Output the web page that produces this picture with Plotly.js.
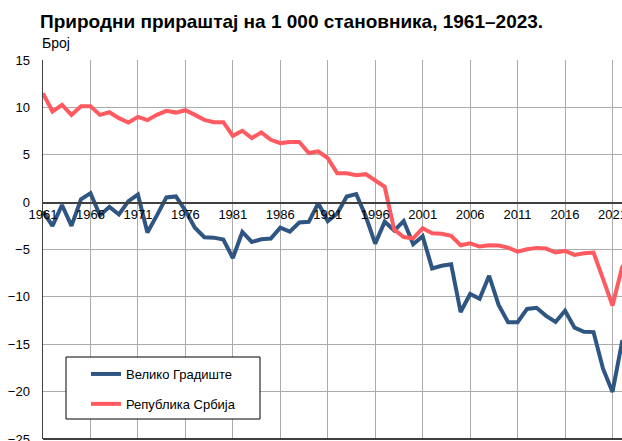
<!DOCTYPE html>
<html>
<head>
<meta charset="utf-8">
<script src="https://cdn.plot.ly/plotly-3.0.1.min.js"></script>
<style>html,body{margin:0;padding:0;background:#fff;}#chart{width:622px;height:441px;}</style>
</head>
<body>
<div id="chart"></div>
<script>
// ---- data ----
const years = [];
for (let y = 1961; y <= 2023; y++) years.push(y);

const velikoGradiste = [
  -1.0, -2.5, -0.3, -2.5, 0.3, 0.95, -1.4, -0.5, -1.3, 0.1,
  0.8, -3.2, -1.4, 0.5, 0.6, -0.9, -2.7, -3.7, -3.75, -3.95,
  -5.9, -3.15, -4.2, -3.92, -3.85, -2.7, -3.12, -2.15, -2.08, -0.12,
  -2.0, -1.2, 0.6, 0.85, -1.5, -4.38, -2.07, -3.0, -2.0, -4.45,
  -3.6, -7.0, -6.72, -6.55, -11.6, -9.7, -10.2, -7.77, -10.85, -12.68,
  -12.68, -11.27, -11.15, -12.0, -12.65, -11.47, -13.25, -13.68, -13.72, -17.58,
  -20.03, -14.78, -15.0
];

const srbija = [
  11.48, 9.56, 10.26, 9.21, 10.12, 10.12, 9.21, 9.49, 8.86, 8.4,
  9.0, 8.65, 9.21, 9.63, 9.45, 9.7, 9.21, 8.68, 8.44, 8.44,
  7.0, 7.53, 6.76, 7.35, 6.58, 6.23, 6.34, 6.34, 5.18, 5.36,
  4.65, 3.05, 3.05, 2.85, 2.95, 2.22, 1.62, -2.9, -3.68, -3.82,
  -2.75, -3.28, -3.33, -3.55, -4.55, -4.34, -4.69, -4.55, -4.58, -4.8,
  -5.22, -4.97, -4.83, -4.9, -5.32, -5.15, -5.57, -5.39, -5.32, -8.1,
  -10.92, -6.9, -5.5
];

const seriesNames = ['Велико Градиште', 'Република Србија'];
const tickYears = [1961, 1966, 1971, 1976, 1981, 1986, 1991, 1996, 2001, 2006, 2011, 2016, 2021];
const yTicks = [15, 10, 5, 0, -5, -10, -15, -20, -25];
const titleText = 'Природни прираштај на 1 000 становника, 1961–2023.';
const unitText = 'Број';

// ---- layout geometry ----
const W = 622, H = 441;
const M = {l: 43, r: 0, t: 60, b: 2};
const PW = W - M.l - M.r, PH = H - M.t - M.b;
const px2x = px => (px - M.l) / PW;
const py2y = py => (H - M.b - py) / PH;

const FONT = 'Arial, "Liberation Sans", sans-serif';

const traces = [
  {x: years, y: velikoGradiste, name: seriesNames[0], type: 'scatter', mode: 'lines',
   line: {color: '#2f5683', width: 4}, legendgroup: 'a'},
  {x: years, y: srbija, name: seriesNames[1], type: 'scatter', mode: 'lines',
   line: {color: '#ff5a5f', width: 4}, legendgroup: 'b'}
];

const layout = {
  width: W, height: H,
  margin: M,
  paper_bgcolor: '#fff', plot_bgcolor: '#fff',
  font: {family: FONT, size: 13, color: '#000'},
  title: {text: '<b>' + titleText + '</b>', font: {family: FONT, size: 19, color: '#000'},
          xref: 'container', yref: 'container', x: 40 / W, xanchor: 'left',
          y: 1 - 21 / H, yanchor: 'middle'},
  xaxis: {
    range: [1961, 2022], tickvals: tickYears, ticktext: tickYears.map(String),
    anchor: 'free', position: 25 / 40, side: 'bottom',
    showline: true, linecolor: '#404040', linewidth: 1.5,
    showgrid: true, gridcolor: '#ababab', gridwidth: 1,
    zeroline: false, ticks: '', tickfont: {size: 13, family: FONT, color: '#000'},
    ticklabeloverflow: 'allow', fixedrange: true
  },
  yaxis: {
    range: [-25, 15], tickvals: yTicks,
    showline: true, linecolor: '#404040', linewidth: 1.5,
    showgrid: true, gridcolor: '#ababab', gridwidth: 1,
    zeroline: false, ticks: 'outside', ticklen: 9, tickcolor: 'rgba(0,0,0,0)',
    tickfont: {size: 13, family: FONT, color: '#000'},
    ticklabeloverflow: 'allow', fixedrange: true
  },
  showlegend: true,
  legend: {x: px2x(86), y: py2y(359), xanchor: 'left', yanchor: 'top',
           bgcolor: 'rgba(0,0,0,0)', borderwidth: 0, tracegroupgap: 10,
           font: {size: 13, family: FONT, color: '#000'}},
  shapes: [
    {type: 'line', xref: 'paper', yref: 'paper', x0: 0, x1: 1, y0: 0, y1: 0,
     line: {color: '#000', width: 1.5}},
    {type: 'rect', xref: 'paper', yref: 'paper', layer: 'above',
     x0: px2x(66), x1: px2x(260), y0: py2y(419), y1: py2y(357),
     fillcolor: '#fff', line: {color: '#000', width: 1}}
  ],
  annotations: [
    {text: unitText, xref: 'paper', yref: 'paper', x: px2x(40), y: py2y(43),
     xanchor: 'left', yanchor: 'middle', showarrow: false,
     font: {size: 14, family: FONT, color: '#000'}}
  ]
};

Plotly.newPlot('chart', traces, layout, {displayModeBar: false, staticPlot: true});
</script>
</body>
</html>
